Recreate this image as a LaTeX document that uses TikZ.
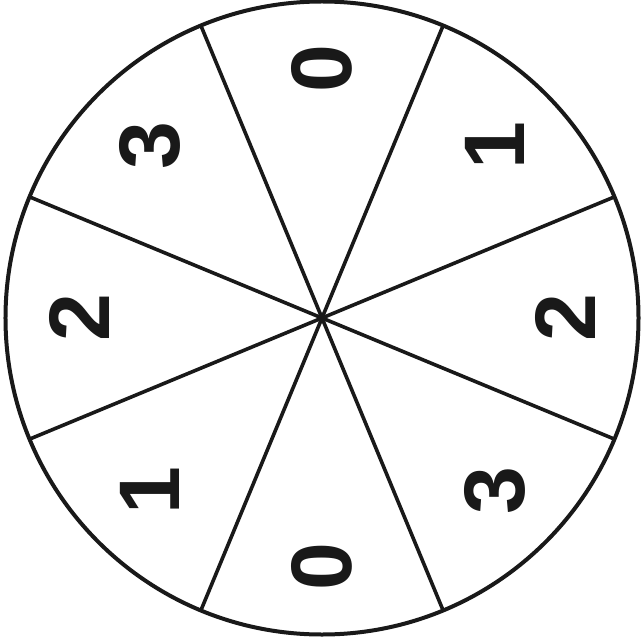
\documentclass[tikz,border=0pt]{standalone}
\usepackage{fontspec}
\setmainfont{Liberation Sans}
\begin{document}
\begin{tikzpicture}[x=1pt,y=1pt,
  rim/.style={line width=4pt,draw=black!90},
  spoke/.style={line width=3.6pt,draw=black!90},
  digit/.style={font=\bfseries\fontsize{86}{86}\selectfont,rotate=90,inner sep=0pt,text=black!90}]
\useasboundingbox (-322,-324) rectangle (322,318);
\coordinate (c) at (0,0);
\draw[rim] (c) circle[radius=316.5];
\foreach \a [count=\i] in {22.5,67.5,...,337.5}{
  \coordinate (e\i) at (\a:316.5);
  \draw[spoke] (c) -- (e\i);
}
\node[digit] (n90)  at (90:249)  {0};
\node[digit] (n45)  at (45:244)  {1};
\node[digit] (n0)   at (0:243)   {2};
\node[digit] (n315) at (-45:244) {3};
\node[digit] (n270) at (270:249) {0};
\node[digit] (n225) at (225:244) {1};
\node[digit] (n180) at (180:243) {2};
\node[digit] (n135) at (135:244) {3};
\end{tikzpicture}
\end{document}
